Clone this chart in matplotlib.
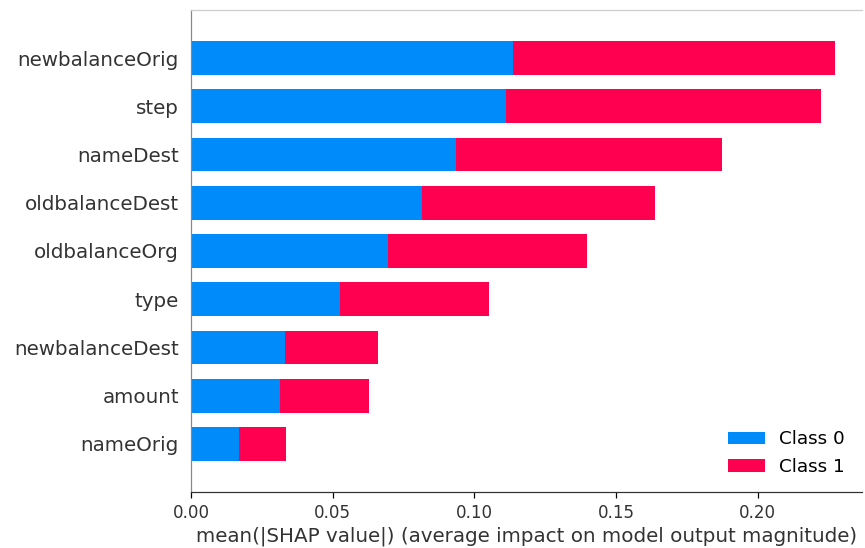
import numpy as np
import matplotlib
matplotlib.use("Agg")
import matplotlib.pyplot as plt

# mean |SHAP| per feature, bottom to top
features = ["nameOrig", "amount", "newbalanceDest", "type", "oldbalanceOrg",
            "oldbalanceDest", "nameDest", "step", "newbalanceOrig"]
class0 = [0.0170, 0.0314, 0.0332, 0.0527, 0.0696, 0.0816, 0.0936, 0.1110, 0.1138]
class1 = [0.0166, 0.0315, 0.0329, 0.0526, 0.0700, 0.0820, 0.0940, 0.1113, 0.1134]
class_names = ["Class 0", "Class 1"]
colors = ["#008bfb", "#ff0051"]

DPI = 110
fig = plt.figure(figsize=(865 / DPI, 548 / DPI), dpi=DPI)
ax = fig.add_axes([0.221, 0.102, 0.775, 0.880])

y = np.arange(len(features))
left = np.zeros(len(features))
for vals, name, col in zip([class0, class1], class_names, colors):
    ax.barh(y, vals, height=0.7, left=left, color=col, label=name)
    left = left + np.array(vals)

ax.set_ylim(-1, len(features))
ax.set_xlim(0, 0.2367)
ax.set_yticks(y)
ax.set_yticklabels(features, fontsize=13, color="#333333")
ax.set_xticks([0, 0.05, 0.10, 0.15, 0.20])
ax.set_xticklabels(["0.00", "0.05", "0.10", "0.15", "0.20"])
ax.tick_params(axis="y", length=0, pad=8)
ax.tick_params(axis="x", labelsize=11, labelcolor="#333333", length=4)
ax.set_xlabel("mean(|SHAP value|) (average impact on model output magnitude)",
              fontsize=13, color="#333333", labelpad=3)

ax.spines["right"].set_visible(False)
ax.spines["top"].set_color("#cccccc")
ax.spines["left"].set_color("#888888")
ax.spines["bottom"].set_color("#333333")

ax.legend(loc="lower right", frameon=False, fontsize=12)

fig.savefig("out.png", dpi=DPI)
